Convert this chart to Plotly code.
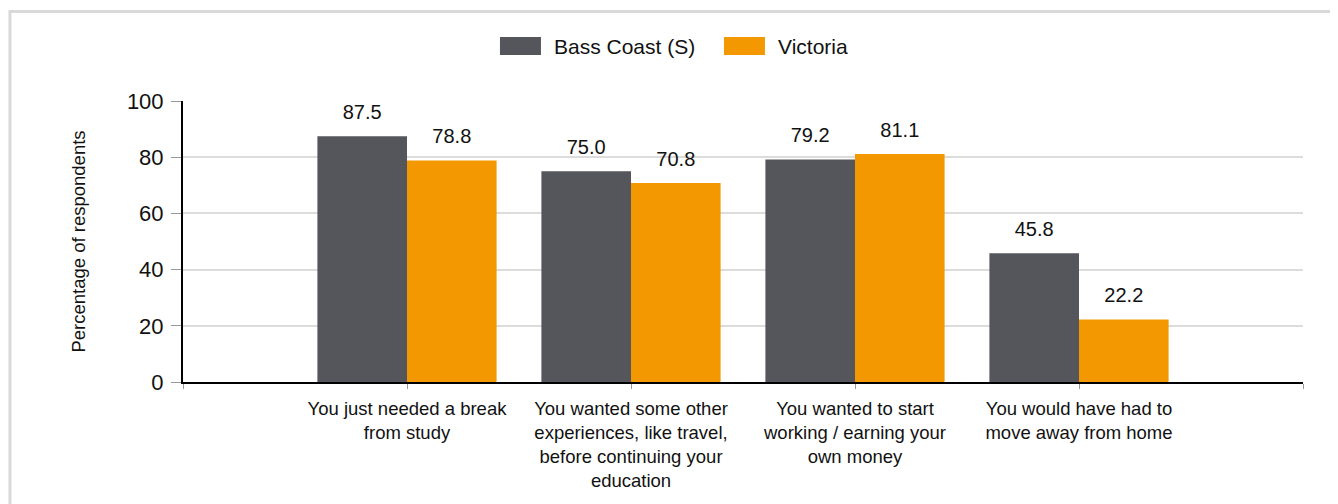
import plotly.graph_objects as go

categories = [
    "You just needed a break<br>from study",
    "You wanted some other<br>experiences, like travel,<br>before continuing your<br>education",
    "You wanted to start<br>working / earning your<br>own money",
    "You would have had to<br>move away from home",
]
series_names = ["Bass Coast (S)", "Victoria"]
bass_coast = [87.5, 75.0, 79.2, 45.8]
victoria = [78.8, 70.8, 81.1, 22.2]
y_ticks = [0, 20, 40, 60, 80, 100]

colors = ["#54565B", "#F39800"]
FONT = "Arial, Liberation Sans, sans-serif"

x_idx = list(range(len(categories)))
series_values = [bass_coast, victoria]

fig = go.Figure()
for name, vals, col in zip(series_names, series_values, colors):
    fig.add_trace(go.Bar(
        x=x_idx, y=vals, name=name, marker=dict(color=col, line=dict(width=0)),
        showlegend=False, hoverinfo="skip",
    ))
for name, vals, col in zip(series_names, series_values, colors):
    fig.add_trace(go.Scatter(
        x=x_idx, y=vals, name=name + " labels", mode="markers+text",
        marker=dict(size=18, opacity=0, color=col),
        text=[f"{v:.1f}" for v in vals], textposition="top center",
        textfont=dict(family=FONT, size=20, color="#111111"),
        showlegend=False, hoverinfo="skip", cliponaxis=False,
    ))

# custom legend (swatches + labels) in paper coordinates
shapes = []
annotations = []
sw_x = [(0.2830, 0.3196), (0.4830, 0.5196)]
for (x0, x1), name, col in zip(sw_x, series_names, colors):
    shapes.append(dict(type="rect", xref="paper", yref="paper", x0=x0, x1=x1,
                       y0=1.1637, y1=1.2278, fillcolor=col, line=dict(width=0)))
    annotations.append(dict(xref="paper", yref="paper", x=x1 + 0.0095, y=1.1957,
                            xanchor="left", yanchor="middle", text=name, showarrow=False,
                            font=dict(family=FONT, size=21, color="#111111")))
# outer frame
shapes.append(dict(type="rect", xref="paper", yref="paper", x0=-0.1545, x1=1.05,
                   y0=-0.5, y1=1.3185, line=dict(color="#D9D9D9", width=3),
                   fillcolor="rgba(0,0,0,0)", layer="below"))

fig.update_layout(
    width=1338, height=504,
    margin=dict(l=175, r=43, t=93, b=130),
    paper_bgcolor="white", plot_bgcolor="white",
    barmode="group", bargap=0.2, bargroupgap=0,
    scattermode="group", scattergap=0.2,
    font=dict(family=FONT, color="#111111"),
    shapes=shapes, annotations=annotations,
    showlegend=False,
)
fig.update_xaxes(
    range=[-1, len(categories)], tickmode="array",
    tickvals=list(range(-1, len(categories) + 1)),
    ticktext=[""] + categories + [""],
    ticks="outside", ticklen=5, tickcolor="#999999", tickwidth=1,
    tickfont=dict(family=FONT, size=18.5, color="#111111"),
    ticklabelstandoff=4,
    showline=True, linecolor="#000000", linewidth=2,
    showgrid=False, zeroline=False, fixedrange=True,
)
fig.update_yaxes(
    range=[0, 100], tickmode="array", tickvals=y_ticks,
    ticks="outside", ticklen=10, tickcolor="#999999", tickwidth=1,
    tickfont=dict(family=FONT, size=22, color="#111111"),
    ticklabelstandoff=3,
    showline=True, linecolor="#000000", linewidth=2,
    showgrid=True, gridcolor="#DCDCDC", gridwidth=2, zeroline=False,
    title=dict(text="Percentage of respondents", font=dict(family=FONT, size=18.5, color="#111111"), standoff=36),
)

fig.write_html("out.html")
